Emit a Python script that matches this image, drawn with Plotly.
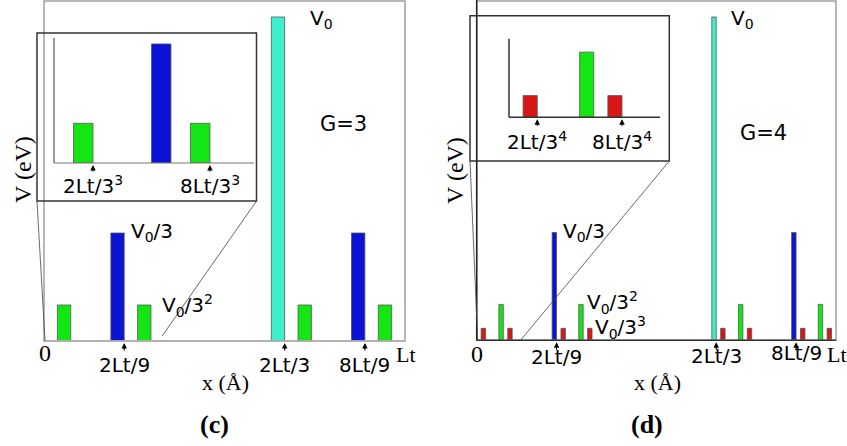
import plotly.graph_objects as go

W, H = 847, 446

# ---------------- data ----------------
V0 = 1.0
h_cyan = V0
h_blue = V0 / 3
h_green = V0 / 9
h_red = V0 / 27

# panel (c): G = 3   (positions = right edge of each barrier, in units of Lt)
c_cyan_pos = [2/3]
c_blue_pos = [2/9, 8/9]
c_green_pos = [2/27, 8/27, 20/27, 26/27]
c_width = 1/27

# panel (d): G = 4
d_cyan_pos = [2/3]
d_blue_pos = [2/9, 8/9]
d_green_pos = [2/27, 8/27, 20/27, 26/27]
d_red_pos = [2/81, 8/81, 20/81, 26/81, 56/81, 62/81, 74/81, 80/81]
d_width = 1/81

main_tick_pos = [2/9, 2/3, 8/9]
main_tick_text = ["2Lt/9", "2Lt/3", "8Lt/9"]
c_inset_tick_pos = [2/27, 8/27]
c_inset_tick_text = ["2Lt/3<sup>3</sup>", "8Lt/3<sup>3</sup>"]
d_inset_tick_pos = [2/81, 8/81]
d_inset_tick_text = ["2Lt/3<sup>4</sup>", "8Lt/3<sup>4</sup>"]

# ---------------- style ----------------
CYAN, BLUE, GREEN, RED = "#3df0cc", "#0b14d4", "#14e614", "#d81616"
EDGE = "#555555"
SANS = "DejaVu Sans"
SERIF = "Liberation Serif"

def fx(p):
    return p / W

def fy(p):
    return 1 - p / H

fig = go.Figure()

def add_bars(pos, height, width, color, xa, ya):
    fig.add_trace(go.Bar(
        x=[p - width / 2 for p in pos], y=[height] * len(pos), width=width,
        marker=dict(color=color, line=dict(color=EDGE, width=0.8)),
        xaxis=xa, yaxis=ya, showlegend=False, hoverinfo="skip"))

# panel c main + inset
for xa, ya in [("x", "y"), ("x3", "y3")]:
    add_bars(c_cyan_pos, h_cyan, c_width, CYAN, xa, ya)
    add_bars(c_blue_pos, h_blue, c_width, BLUE, xa, ya)
    add_bars(c_green_pos, h_green, c_width, GREEN, xa, ya)
# panel d main + inset
for xa, ya in [("x2", "y2"), ("x4", "y4")]:
    add_bars(d_cyan_pos, h_cyan, d_width, CYAN, xa, ya)
    add_bars(d_blue_pos, h_blue, d_width, BLUE, xa, ya)
    add_bars(d_green_pos, h_green, d_width, GREEN, xa, ya)
    add_bars(d_red_pos, h_red, d_width, RED, xa, ya)

hidden = dict(showgrid=False, zeroline=False, showticklabels=False, ticks="", showline=False, fixedrange=True)

# axis geometry (pixels)
C = dict(x0=44, x1=405, y0=1, y1=341, xr=[0, 1], yr=[0, 340 / 324])
D = dict(x0=476.7, x1=836, y0=1, y1=340.3, xr=[0, 1], yr=[0, 339.3 / 323.3])
CI = dict(x0=54, x1=254, y0=38, y1=163, xr=[0, 0.38], yr=[0, 0.35])
DI = dict(x0=509, x1=660, y0=38.7, y1=117.3, xr=[0, 0.132], yr=[0, 0.134])

def axes(g, anchor_x, anchor_y):
    xa = dict(hidden, domain=[fx(g["x0"]), fx(g["x1"])], range=g["xr"], anchor=anchor_y)
    ya = dict(hidden, domain=[fy(g["y1"]), fy(g["y0"])], range=g["yr"], anchor=anchor_x)
    return xa, ya

xa1, ya1 = axes(C, "x", "y")
xa2, ya2 = axes(D, "x2", "y2")
xa3, ya3 = axes(CI, "x3", "y3")
xa4, ya4 = axes(DI, "x4", "y4")

def to_px(g, xd, yd):
    xp = g["x0"] + (xd - g["xr"][0]) / (g["xr"][1] - g["xr"][0]) * (g["x1"] - g["x0"])
    yp = g["y1"] - (yd - g["yr"][0]) / (g["yr"][1] - g["yr"][0]) * (g["y1"] - g["y0"])
    return xp, yp

shapes = []

def line(x0, y0, x1, y1, color, width):
    shapes.append(dict(type="line", xref="paper", yref="paper",
                       x0=fx(x0), y0=fy(y0), x1=fx(x1), y1=fy(y1),
                       line=dict(color=color, width=width)))

# frames
for g, lc in [(C, "#a0a0a0"), (D, "#a0a0a0")]:
    shapes.append(dict(type="rect", xref="paper", yref="paper",
                       x0=fx(g["x0"]), x1=fx(g["x1"]), y0=fy(g["y1"]), y1=fy(g["y0"]),
                       line=dict(color=lc, width=1.5)))
line(C["x0"], C["y1"], C["x1"], C["y1"], "#b0b0b0", 1.5)
line(D["x0"], 0, D["x0"], D["y1"], "#222222", 1.5)
line(D["x0"], D["y1"], D["x1"], D["y1"], "#333333", 1.5)

# insets axis lines
line(CI["x0"], CI["y0"], CI["x0"], CI["y1"], "#555555", 1.2)
line(CI["x0"], CI["y1"], CI["x1"], CI["y1"], "#777777", 1.2)
line(DI["x0"], DI["y0"], DI["x0"], DI["y1"], "#333333", 1.5)
line(DI["x0"], DI["y1"], DI["x1"], DI["y1"], "#333333", 1.5)

# inset boxes
c_box = (37, 33, 256.5, 201)
d_box = (470, 15.7, 669.3, 161)
for bx in [c_box, d_box]:
    shapes.append(dict(type="rect", xref="paper", yref="paper",
                       x0=fx(bx[0]), x1=fx(bx[2]), y0=fy(bx[3]), y1=fy(bx[1]),
                       line=dict(color="#333333", width=1.5)))

# zoom lines (from inset corners to the zoomed region of the main axis)
c_zoom = [0, 0.327]
d_zoom = [0, 0.122]
p0 = to_px(C, c_zoom[0], 0); p1 = to_px(C, c_zoom[1], 0.015)
line(c_box[0], c_box[3], p0[0] + 1, p0[1], "#444444", 0.8)
line(c_box[2], c_box[3], p1[0], p1[1], "#444444", 0.8)
p0 = to_px(D, d_zoom[0], 0); p1 = to_px(D, d_zoom[1], 0)
line(d_box[0], d_box[3], p0[0] + 1, p0[1], "#444444", 0.8)
line(d_box[2], d_box[3], p1[0], p1[1], "#444444", 0.8)

annotations = []

def arrows(pos, xa, ya, ay):
    for p in pos:
        annotations.append(dict(x=p, y=0, xref=xa, yref=ya, text="", showarrow=True,
                                ax=0, ay=ay, arrowhead=2, arrowsize=1, arrowwidth=1.1,
                                arrowcolor="black", standoff=2))

def labels(pos, texts, xa, ya, shifts, size=20):
    for p, t, s in zip(pos, texts, shifts):
        annotations.append(dict(x=p, y=0, xref=xa, yref=ya, text=t, showarrow=False,
                                xanchor="center", yanchor="middle", yshift=s,
                                font=dict(family=SANS, size=size, color="black")))

arrows(main_tick_pos, "x", "y", 11)
arrows(main_tick_pos, "x2", "y2", 11)
arrows(c_inset_tick_pos, "x3", "y3", 10)
arrows(d_inset_tick_pos, "x4", "y4", 10)
labels(main_tick_pos, main_tick_text, "x", "y", [-24, -24, -24])
labels(main_tick_pos, main_tick_text, "x2", "y2", [-17, -16, -13])
labels(c_inset_tick_pos, c_inset_tick_text, "x3", "y3", [-22, -22])
labels(d_inset_tick_pos, d_inset_tick_text, "x4", "y4", [-24, -24])

def text(xp, yp, t, family=SANS, size=20, angle=0, bold=False):
    if bold:
        t = "<b>" + t + "</b>"
    annotations.append(dict(x=fx(xp), y=fy(yp), xref="paper", yref="paper", text=t,
                            showarrow=False, xanchor="center", yanchor="middle",
                            textangle=angle, font=dict(family=family, size=size, color="black")))

# panel c texts
text(321, 19, "V<sub>0</sub>")
text(343, 124, "G=3", size=21)
text(152, 232, "V<sub>0</sub>/3")
text(187, 305, "V<sub>0</sub>/3<sup>2</sup>")
text(44.5, 353, "0", SERIF, 24)
text(405.5, 354, "Lt", SERIF, 22)
text(225.5, 382, "x (Å)", SERIF, 22)
text(23, 170, "V (eV)", SERIF, 24, angle=-90)
text(214, 424.5, "(c)", SERIF, 26, bold=True)

# panel d texts
text(742, 19, "V<sub>0</sub>")
text(763, 132.5, "G=4", size=21)
text(584, 232, "V<sub>0</sub>/3")
text(612, 302, "V<sub>0</sub>/3<sup>2</sup>")
text(620, 327, "V<sub>0</sub>/3<sup>3</sup>")
text(477, 354, "0", SERIF, 24)
text(837, 354, "Lt", SERIF, 22)
text(657, 382, "x (Å)", SERIF, 22)
text(455, 171, "V (eV)", SERIF, 24, angle=-90)
text(647, 424.5, "(d)", SERIF, 26, bold=True)

fig.update_layout(
    width=W, height=H, margin=dict(l=0, r=0, t=0, b=0),
    paper_bgcolor="white", plot_bgcolor="rgba(0,0,0,0)",
    barmode="overlay", showlegend=False,
    xaxis=xa1, yaxis=ya1, xaxis2=xa2, yaxis2=ya2,
    xaxis3=xa3, yaxis3=ya3, xaxis4=xa4, yaxis4=ya4,
    shapes=shapes, annotations=annotations,
)

fig.write_html("out.html", config={"displayModeBar": False},
               post_script="document.body.style.margin='0px';document.body.style.overflow='hidden';")
